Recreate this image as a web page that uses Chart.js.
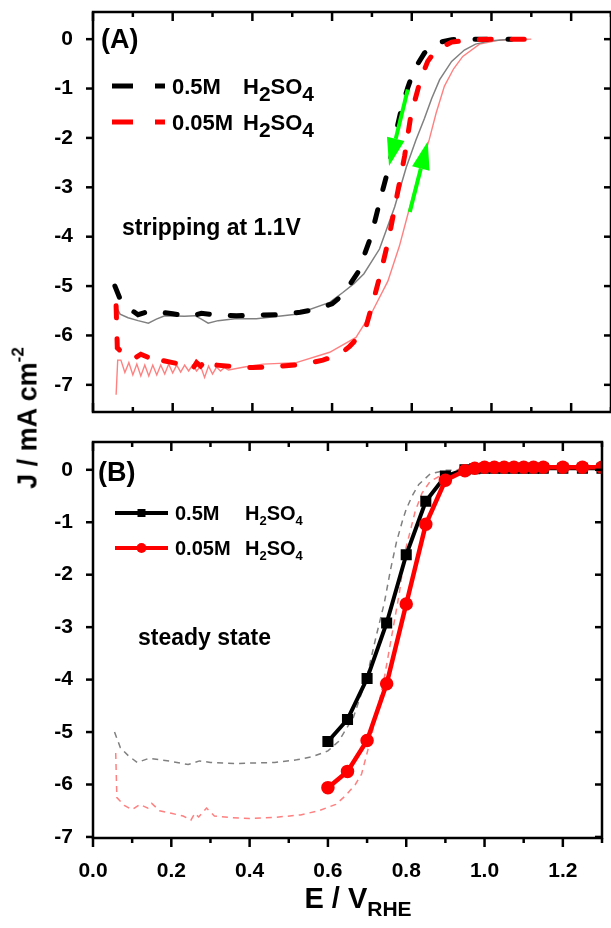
<!DOCTYPE html>
<html>
<head>
<meta charset="utf-8">
<title>ORR polarization curves in H2SO4</title>
<script src="https://cdn.jsdelivr.net/npm/chart.js@4.4.1/dist/chart.umd.min.js"></script>
<style>
  html, body { margin: 0; padding: 0; background: #fff; }
  body { position: relative; width: 611px; height: 928px; overflow: hidden;
         font-family: "Liberation Sans", Arial, sans-serif; font-weight: bold; color: #000; }
  canvas { position: absolute; left: 0; }
  #chartA { top: 0; }
  #chartB { top: 430px; }
  #yTitle { position: absolute; left: 28px; top: 418px; white-space: nowrap; font-size: 27px;
            transform: translate(-50%, -50%) rotate(-90deg); }
  #yTitle sup { font-size: 17px; vertical-align: 0.75em; line-height: 0; }
  #xTitle { position: absolute; left: 358px; top: 898px; white-space: nowrap; font-size: 29px;
            transform: translate(-50%, -50%); }
  #xTitle sub { font-size: 21px; vertical-align: -0.4em; line-height: 0; }
</style>
</head>
<body>
<canvas id="chartA" width="611" height="430"></canvas>
<canvas id="chartB" width="611" height="498"></canvas>
<div id="yTitle">J / mA cm<sup>-2</sup></div>
<div id="xTitle">E / V<sub>RHE</sub></div>
<script>
//---axes
var xMajor = [0, 0.2, 0.4, 0.6, 0.8, 1.0, 1.2];
var xMinor = [0.1, 0.3, 0.5, 0.7, 0.9, 1.1, 1.3];
var yMajor = [0, -1, -2, -3, -4, -5, -6, -7];

//---(A) ORR sweeps after stripping at 1.1 V, 0.5 M H2SO4 (dashed)
var eDash05 = [0.055, 0.07, 0.09, 0.113, 0.143, 0.2, 0.243, 0.272, 0.3, 0.36, 0.464, 0.52, 0.56, 0.6, 0.627,
  0.665, 0.698, 0.723, 0.744, 0.76, 0.775, 0.79, 0.8, 0.815, 0.832, 0.861, 0.9, 0.95, 1.05];
var jDash05 = [-5.0, -5.3, -5.45, -5.58, -5.5, -5.56, -5.62, -5.55, -5.58, -5.6, -5.58, -5.53, -5.47, -5.36, -5.18,
  -4.72, -3.99, -3.18, -2.54, -1.9, -1.38, -0.98, -0.75, -0.5, -0.28, -0.08, -0.01, 0, 0];

//---(A) 0.05 M H2SO4 (dashed)
var eDash005 = [0.058, 0.061, 0.08, 0.1, 0.12, 0.14, 0.15, 0.17, 0.2, 0.23, 0.25, 0.26, 0.27, 0.29, 0.31, 0.35,
  0.4, 0.46, 0.53, 0.577, 0.62, 0.644, 0.67, 0.686, 0.7, 0.719, 0.742, 0.761, 0.782, 0.798, 0.823, 0.84, 0.861,
  0.9, 0.95, 1.0, 1.1];
var jDash005 = [-5.4, -6.25, -6.4, -6.48, -6.38, -6.45, -6.36, -6.5, -6.55, -6.6, -6.68, -6.55, -6.62, -6.45, -6.6, -6.63,
  -6.65, -6.63, -6.58, -6.5, -6.38, -6.22, -6.0, -5.8, -5.4, -4.83, -4.05, -3.25, -2.37, -1.53, -0.79, -0.45, -0.22,
  -0.06, -0.01, 0, 0];

//---(A) reverse scans, thin lines
var eScan05 = [0.055, 0.068, 0.088, 0.113, 0.139, 0.159, 0.18, 0.23, 0.256, 0.272, 0.289, 0.314, 0.356, 0.41, 0.51,
  0.594, 0.627, 0.655, 0.68, 0.719, 0.757, 0.786, 0.81, 0.832, 0.85, 0.87, 0.9, 0.932, 0.96, 1.0, 1.05];
var jScan05 = [-5.37, -5.57, -5.64, -5.7, -5.75, -5.67, -5.6, -5.61, -5.6, -5.67, -5.75, -5.7, -5.66, -5.66, -5.57,
  -5.33, -5.13, -4.95, -4.75, -4.25, -3.4, -2.6, -2.05, -1.6, -1.2, -0.82, -0.45, -0.22, -0.1, -0.03, 0];

var eScan005 = [0.058, 0.062, 0.07, 0.08, 0.09, 0.1, 0.11, 0.12, 0.13, 0.14, 0.15, 0.16, 0.17, 0.18, 0.19, 0.2,
  0.21, 0.22, 0.23, 0.24, 0.25, 0.26, 0.27, 0.28, 0.29, 0.3, 0.31, 0.32, 0.33, 0.34, 0.38, 0.427, 0.51, 0.594,
  0.66, 0.702, 0.74, 0.769, 0.79, 0.815, 0.844, 0.861, 0.882, 0.905, 0.928, 0.97, 1.02, 1.1];
var jScan005 = [-7.2, -6.5, -6.5, -6.75, -6.55, -6.8, -6.58, -6.82, -6.6, -6.82, -6.6, -6.8, -6.6, -6.78, -6.58, -6.76,
  -6.6, -6.74, -6.6, -6.72, -6.6, -6.72, -6.62, -6.85, -6.62, -6.78, -6.64, -6.72, -6.65, -6.7, -6.64, -6.58, -6.55, -6.34,
  -6.04, -5.5, -4.9, -4.19, -3.55, -2.8, -2.03, -1.5, -0.95, -0.6, -0.35, -0.1, -0.02, 0];

//---(A) scan direction arrows [e0, j0, e1, j1]
var arrowDown = [0.79, -1.02, 0.743, -2.57];
var arrowUp = [0.795, -3.5, 0.84, -2.07];

//---(B) steady state points
var eSteady = [0.6, 0.65, 0.7, 0.75, 0.8, 0.85, 0.9, 0.95, 0.975, 1.0, 1.025, 1.05, 1.075, 1.1, 1.125, 1.15, 1.2, 1.25, 1.3];
var jSteady05 = [-5.18, -4.76, -3.98, -2.92, -1.62, -0.6, -0.12, 0, 0.02, 0.03, 0.03, 0.03, 0.03, 0.03, 0.03, 0.03, 0.03, 0.03, 0.03];
var jSteady005 = [-6.06, -5.75, -5.16, -4.08, -2.56, -1.04, -0.2, -0.02, 0.03, 0.05, 0.05, 0.05, 0.05, 0.05, 0.05, 0.05, 0.05, 0.05, 0.05];

var FONT = '"Liberation Sans", Arial, sans-serif';
var tickFont = { family: FONT, size: 21, weight: 'bold' };

function pts(xs, ys) {
  return xs.map(function (x, i) { return { x: x, y: ys[i] }; });
}

function xAxis(showLabels) {
  return {
    type: 'linear', min: 0, max: 1.3, display: showLabels,
    grid: { display: false }, border: { display: false },
    afterBuildTicks: function (s) { s.ticks = xMajor.map(function (v) { return { value: v }; }); },
    ticks: { font: tickFont, color: '#000', padding: 13, maxRotation: 0,
      callback: function (v) { return v.toFixed(1); } },
    afterFit: function (s) { s.height = showLabels ? 90 : 0; s.paddingLeft = s.paddingRight = 0; }
  };
}

function yAxis(min, max) {
  return {
    type: 'linear', min: min, max: max,
    grid: { display: false }, border: { display: false },
    afterBuildTicks: function (s) { s.ticks = yMajor.map(function (v) { return { value: v }; }); },
    ticks: { font: tickFont, color: '#000', padding: 12, callback: function (v) { return String(v); } },
    afterFit: function (s) { s.width = 93; s.paddingTop = s.paddingBottom = 0; }
  };
}

// text with subscripts: parts = [[text, isSub], ...]
function richText(ctx, parts, x, y, size, subSize, drop) {
  parts.forEach(function (p) {
    ctx.font = 'bold ' + (p[1] ? subSize : size) + 'px ' + FONT;
    ctx.fillText(p[0], x, y + (p[1] ? drop : 0));
    x += ctx.measureText(p[0]).width;
  });
}

// frame, ticks, arrows, legend and labels
var panelDecor = {
  id: 'panelDecor',
  afterDatasetsDraw: function (chart, args, o) {
    var ctx = chart.ctx, a = chart.chartArea, xs = chart.scales.x, ys = chart.scales.y;
    ctx.save();

    (o.arrows || []).forEach(function (ar) {
      var x1 = xs.getPixelForValue(ar[0]), y1 = ys.getPixelForValue(ar[1]);
      var x2 = xs.getPixelForValue(ar[2]), y2 = ys.getPixelForValue(ar[3]);
      var ang = Math.atan2(y2 - y1, x2 - x1), hl = 28, hw = 9;
      var bx = x2 - hl * Math.cos(ang), by = y2 - hl * Math.sin(ang);
      ctx.strokeStyle = ctx.fillStyle = '#00ff00';
      ctx.lineWidth = 4;
      ctx.beginPath(); ctx.moveTo(x1, y1); ctx.lineTo(bx, by); ctx.stroke();
      ctx.beginPath(); ctx.moveTo(x2, y2);
      ctx.lineTo(bx + hw * Math.sin(ang), by - hw * Math.cos(ang));
      ctx.lineTo(bx - hw * Math.sin(ang), by + hw * Math.cos(ang));
      ctx.closePath(); ctx.fill();
    });

    ctx.strokeStyle = '#000';
    ctx.fillStyle = '#000';
    ctx.lineWidth = 2.5;
    ctx.setLineDash([]);
    ctx.strokeRect(a.left, a.top, a.right - a.left, a.bottom - a.top);
    function tick(x1, y1, x2, y2) { ctx.beginPath(); ctx.moveTo(x1, y1); ctx.lineTo(x2, y2); ctx.stroke(); }
    var down = o.bottomOut ? 1 : -1;
    xMajor.concat(xMinor).forEach(function (v) {
      var px = xs.getPixelForValue(v), len = xMajor.indexOf(v) >= 0 ? 9 : 5;
      tick(px, a.top, px, a.top + len);
      tick(px, a.bottom, px, a.bottom + down * len);
    });
    yMajor.forEach(function (v) {
      var py = ys.getPixelForValue(v);
      tick(a.left, py, a.left - 7, py);
      tick(a.right, py, a.right - 7, py);
    });

    var lg = o.legend;
    lg.rows.forEach(function (r) {
      ctx.strokeStyle = r.color;
      ctx.lineWidth = r.width;
      ctx.setLineDash(r.dash || []);
      tick(lg.x0, r.y, lg.x1, r.y);
      ctx.setLineDash([]);
      if (r.marker) {
        var mx = (lg.x0 + lg.x1) / 2;
        ctx.fillStyle = r.color;
        ctx.beginPath();
        if (r.marker === 'rect') ctx.rect(mx - 4, r.y - 4, 8, 8);
        else ctx.arc(mx, r.y, 5, 0, Math.PI * 2);
        ctx.fill();
      }
      ctx.fillStyle = '#000';
      richText(ctx, [[r.name, false]], lg.textX, r.y + lg.base, lg.size, lg.subSize, lg.drop);
      richText(ctx, [['H', false], ['2', true], ['SO', false], ['4', true]], lg.hX, r.y + lg.base, lg.size, lg.subSize, lg.drop);
    });

    ctx.fillStyle = '#000';
    o.labels.forEach(function (t) {
      ctx.font = 'bold ' + t.size + 'px ' + FONT;
      ctx.fillText(t.text, t.x, t.y);
    });
    ctx.restore();
  }
};

function baseOptions(ymin, ymax, showX, pad, decor) {
  return {
    responsive: false, animation: false, devicePixelRatio: 1, events: [],
    layout: { padding: pad },
    scales: { x: xAxis(showX), y: yAxis(ymin, ymax) },
    plugins: { legend: { display: false }, tooltip: { enabled: false }, panelDecor: decor }
  };
}

function curve(xs, ys, color, width, dash, cap) {
  return { data: pts(xs, ys), borderColor: color, borderWidth: width, borderDash: dash || [],
    borderCapStyle: cap || 'butt', pointRadius: 0, tension: 0, fill: false };
}

// Panel A---------------------------------------------------------------------------
var chartA = new Chart(document.getElementById('chartA'), {
  type: 'line',
  data: {
    datasets: [
      curve(eDash005, jDash005, '#ff0000', 5, [12, 21], 'round'),
      curve(eDash05, jDash05, '#000000', 5, [12, 21], 'round'),
      curve(eScan05, jScan05, '#808080', 1.5),
      curve(eScan005, jScan005, '#ff8080', 1.4)
    ]
  },
  options: baseOptions(-7.55, 0.55, false, { top: 12, bottom: 18, left: 0, right: 0 }, {
    arrows: [arrowDown, arrowUp],
    bottomOut: false,
    legend: { x0: 112, x1: 165, textX: 172, hX: 243, size: 22, subSize: 21, drop: 7, base: 8,
      rows: [
        { y: 86, color: '#000', width: 5, dash: [21, 22], name: '0.5M' },
        { y: 122, color: '#ff0000', width: 5, dash: [21, 22], name: '0.05M' }
      ] },
    labels: [
      { text: '(A)', x: 101, y: 48, size: 27 },
      { text: 'stripping at 1.1V', x: 122, y: 235, size: 23 }
    ]
  }),
  plugins: [panelDecor]
});

// Panel B---------------------------------------------------------------------------
var chartB = new Chart(document.getElementById('chartB'), {
  type: 'line',
  data: {
    datasets: [
      Object.assign(curve(eSteady, jSteady005, '#ff0000', 4.5), { pointRadius: 4.5, pointStyle: 'circle',
        pointBackgroundColor: '#ff0000', pointBorderColor: '#ff0000' }),
      Object.assign(curve(eSteady, jSteady05, '#000000', 4), { pointRadius: 5, pointStyle: 'rect',
        pointBackgroundColor: '#000000', pointBorderColor: '#000000' }),
      curve(eDash05, jDash05, '#808080', 1.5, [6, 5]),
      curve(eDash005, jDash005, '#ff8080', 1.5, [6, 5])
    ]
  },
  options: baseOptions(-7.02, 0.53, true, { top: 12, bottom: 0, left: 0, right: 0 }, {
    bottomOut: true,
    legend: { x0: 115, x1: 168, textX: 175, hX: 245, size: 20, subSize: 13, drop: 5, base: 7,
      rows: [
        { y: 83, color: '#000', width: 4, marker: 'rect', name: '0.5M' },
        { y: 118, color: '#ff0000', width: 4, marker: 'circle', name: '0.05M' }
      ] },
    labels: [
      { text: '(B)', x: 98, y: 51, size: 27 },
      { text: 'steady state', x: 138, y: 215, size: 23 }
    ]
  }),
  plugins: [panelDecor]
});
</script>
</body>
</html>
